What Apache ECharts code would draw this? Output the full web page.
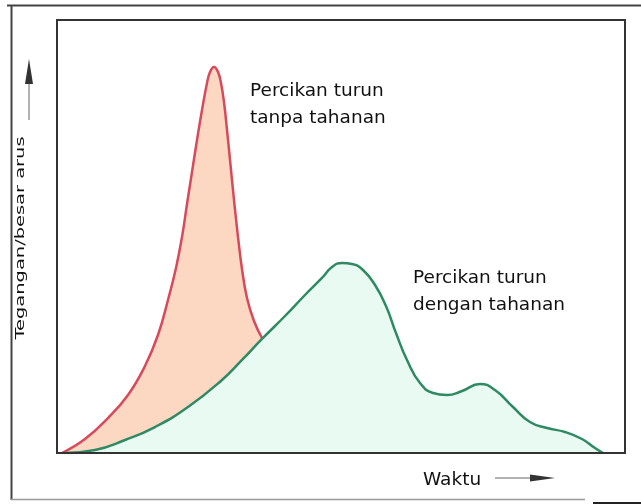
<!DOCTYPE html>
<html>
<head>
<meta charset="utf-8">
<title>Percikan turun</title>
<script src="https://cdn.jsdelivr.net/npm/echarts@6/dist/echarts.min.js"></script>
<style>
  html, body { margin: 0; padding: 0; background: #ffffff; }
  #chart { width: 641px; height: 504px; }
</style>
</head>
<body>
<div id="chart"></div>
<script>
// Spark discharge without resistance: time (0-100) and amplitude (0-100)
const timeNoResistor = [0.88, 4.93, 8.98, 12.50, 15.49, 17.78, 19.54, 20.95, 22.01, 22.89, 23.77, 24.65, 25.53, 26.41, 26.94, 27.64, 28.35, 28.87, 29.40, 29.93, 30.46, 31.16, 31.87, 32.57, 33.45, 34.68, 36.09];
const ampNoResistor  = [0, 3.23, 8.08, 13.39, 20.09, 27.25, 35.33, 42.73, 49.88, 57.51, 64.90, 72.29, 79.21, 85.45, 87.99, 89.15, 87.99, 85.45, 81.06, 74.60, 67.67, 58.43, 49.88, 42.49, 35.80, 30.48, 26.56];

// Spark discharge with resistance
const timeResistor = [1.41, 6.69, 11.97, 17.25, 23.06, 29.05, 32.57, 36.09, 40.14, 43.66, 46.65, 48.42, 50.18, 51.94, 53.87, 55.99, 57.92, 59.68, 61.62, 63.91, 66.20, 68.66, 71.30, 74.47, 77.11, 80.28, 83.27, 86.27, 89.44, 92.43, 94.72, 96.13];
const ampResistor  = [0, 0.69, 3.00, 6.00, 10.62, 16.86, 21.48, 26.33, 31.64, 36.49, 40.42, 42.96, 43.88, 43.65, 42.26, 38.80, 33.95, 27.71, 21.48, 16.17, 13.86, 13.39, 14.32, 15.94, 14.55, 10.62, 7.16, 5.77, 4.85, 3.23, 1.15, 0];

// Text
const yAxisTitle = 'Tegangan/besar arus';
const xAxisTitle = 'Waktu';
const labelNoResistor = ['Percikan turun', 'tanpa tahanan'];
const labelResistor = ['Percikan turun', 'dengan tahanan'];

const zip = (xs, ys) => xs.map((x, i) => [x, ys[i]]);
const FONT = '"DejaVu Sans", Verdana, sans-serif';
const LABEL_FONT = '18.5px ' + FONT;
const YTITLE_FONT = '13px ' + FONT;

// the vertical title is drawn narrow and stretched along its length to ~203px
const measureCtx = document.createElement('canvas').getContext('2d');
measureCtx.font = YTITLE_FONT;
const yTitleStretch = 203 / measureCtx.measureText(yAxisTitle).width;

const chart = echarts.init(document.getElementById('chart'), null, { renderer: 'canvas' });

function textEl(str, x, y, extra) {
  return Object.assign({
    type: 'text', x: x, y: y, z: 100,
    style: { text: str, font: LABEL_FONT, fill: '#111', align: 'left', verticalAlign: 'middle' }
  }, extra || {});
}

chart.setOption({
  backgroundColor: '#ffffff',
  animation: false,
  grid: { left: 57, right: 16, top: 20, bottom: 51, show: true, borderColor: '#333', borderWidth: 2, backgroundColor: 'transparent', z: 10 },
  xAxis: { type: 'value', min: 0, max: 100, show: false },
  yAxis: { type: 'value', min: 0, max: 100, show: false },
  series: [
    {
      type: 'line', name: 'tanpa tahanan',
      data: zip(timeNoResistor, ampNoResistor),
      smooth: 0.45, showSymbol: false,
      lineStyle: { color: '#d74a5c', width: 2.5 },
      areaStyle: { color: '#fcd8c3', opacity: 1 },
      z: 2
    },
    {
      type: 'line', name: 'dengan tahanan',
      data: zip(timeResistor, ampResistor),
      smooth: 0.5, showSymbol: false,
      lineStyle: { color: '#2f8a63', width: 2.5 },
      areaStyle: { color: '#e8faf1', opacity: 1 },
      z: 3
    }
  ],
  graphic: [
    // outer frame
    { type: 'line', shape: { x1: 7, y1: 5.5, x2: 641, y2: 5.5 }, style: { stroke: '#444', lineWidth: 2 } },
    { type: 'line', shape: { x1: 11.5, y1: 5, x2: 11.5, y2: 500 }, style: { stroke: '#444', lineWidth: 2 } },
    { type: 'line', shape: { x1: 11, y1: 499.5, x2: 585, y2: 499.5 }, style: { stroke: '#999', lineWidth: 1.5 } },
    { type: 'line', shape: { x1: 593, y1: 503, x2: 641, y2: 503 }, style: { stroke: '#222', lineWidth: 2 } },
    // y title with arrow
    textEl(yAxisTitle, 21, 238, {
      rotation: Math.PI / 2, scaleX: yTitleStretch,
      style: { text: yAxisTitle, font: YTITLE_FONT, fill: '#111', align: 'center', verticalAlign: 'middle' }
    }),
    { type: 'line', shape: { x1: 29, y1: 80, x2: 29, y2: 120 }, style: { stroke: '#999', lineWidth: 1.5 } },
    { type: 'polygon', shape: { points: [[29, 59], [25, 84], [33, 84]] }, style: { fill: '#333' } },
    // x title with arrow
    textEl(xAxisTitle, 423, 480),
    { type: 'line', shape: { x1: 495, y1: 478, x2: 532, y2: 478 }, style: { stroke: '#999', lineWidth: 1.5 } },
    { type: 'polygon', shape: { points: [[530, 474.5], [555, 478], [530, 481.5]] }, style: { fill: '#333' } },
    // curve annotations
    textEl(labelNoResistor[0], 250, 91),
    textEl(labelNoResistor[1], 250, 118),
    textEl(labelResistor[0], 413, 278),
    textEl(labelResistor[1], 413, 305)
  ]
});
</script>
</body>
</html>
